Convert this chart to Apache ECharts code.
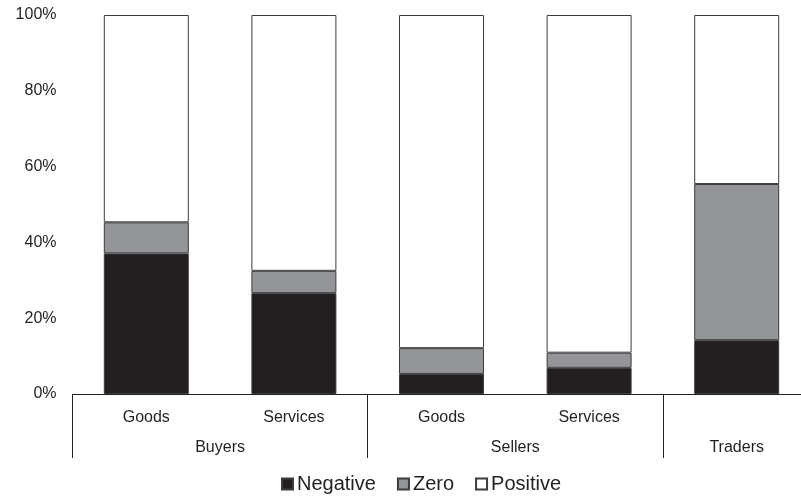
<!DOCTYPE html>
<html>
<head>
<meta charset="utf-8">
<script src="https://cdn.jsdelivr.net/npm/echarts@6/dist/echarts.min.js"></script>
<style>
html,body{margin:0;padding:0;background:#fff;}
#chart{width:801px;height:497px;}
</style>
</head>
<body>
<div id="chart"></div>
<script>
// Data
const subCategories = ['Goods', 'Services', 'Goods', 'Services', ''];
const groupNames = ['Buyers', 'Sellers', 'Traders'];
const groupSizes = [2, 2, 1];
const negative = [37.1, 26.6, 5.3, 6.9, 14.2];
const zero = [8.2, 5.9, 6.8, 4.0, 41.2];
const positive = [54.7, 67.5, 87.9, 89.1, 44.6];
const yTicks = [0, 20, 40, 60, 80, 100];

// group label slots (half-category resolution, boundaryGap false)
const groupSlots = new Array(subCategories.length * 2 + 1).fill('');
const groupStarts = [];
(function () {
  let s = 0;
  groupSizes.forEach(function (n, i) {
    groupSlots[2 * s + n] = groupNames[i];
    groupStarts.push(s);
    s += n;
  });
})();

const FONT = 'Liberation Sans, Arial, sans-serif';
const TXT = '#231f20';
const BORDER = '#3c3c3c';

const chart = echarts.init(document.getElementById('chart'), null, {renderer: 'canvas'});
const option = {
  animation: false,
  backgroundColor: '#ffffff',
  textStyle: {fontFamily: FONT},
  grid: {left: 72.5, width: 738, top: 15, height: 379, containLabel: false, outerBoundsMode: 'none'},
  legend: {
    left: 276,
    top: 469,
    icon: 'rect',
    itemWidth: 11,
    itemHeight: 11,
    itemGap: 21,
    textStyle: {fontSize: 20, color: TXT, fontFamily: FONT, padding: [0, 0, 0, -1]},
    data: ['Negative', 'Zero', 'Positive']
  },
  xAxis: [
    {
      type: 'category',
      data: subCategories,
      position: 'bottom',
      axisLine: {show: true, lineStyle: {color: '#231f20', width: 1}},
      axisTick: {
        show: true,
        length: 64,
        lineStyle: {color: '#231f20', width: 1},
        interval: function (index) { return groupStarts.indexOf(index) >= 0; }
      },
      axisLabel: {fontSize: 16, color: TXT, margin: 16, interval: 0, fontFamily: FONT},
      splitLine: {show: false}
    },
    {
      type: 'category',
      data: groupSlots,
      boundaryGap: false,
      position: 'bottom',
      offset: 30,
      axisLine: {show: false},
      axisTick: {show: false},
      axisLabel: {fontSize: 16, color: TXT, margin: 16, interval: 0, fontFamily: FONT},
      splitLine: {show: false}
    }
  ],
  yAxis: {
    type: 'value',
    min: yTicks[0],
    max: yTicks[yTicks.length - 1],
    interval: yTicks[1] - yTicks[0],
    axisLine: {show: false},
    axisTick: {show: false},
    splitLine: {show: false},
    axisLabel: {fontSize: 16, color: TXT, margin: 16, formatter: '{value}%', fontFamily: FONT}
  },
  series: [
    {name: 'Negative', type: 'bar', stack: 'all', barWidth: 85, data: negative,
     itemStyle: {color: '#231f20', borderColor: BORDER, borderWidth: 1}},
    {name: 'Zero', type: 'bar', stack: 'all', barWidth: 85, data: zero,
     itemStyle: {color: '#939598', borderColor: BORDER, borderWidth: 1}},
    {name: 'Positive', type: 'bar', stack: 'all', barWidth: 85, data: positive,
     itemStyle: {color: '#ffffff', borderColor: BORDER, borderWidth: 1}}
  ]
};
chart.setOption(option);
</script>
</body>
</html>
